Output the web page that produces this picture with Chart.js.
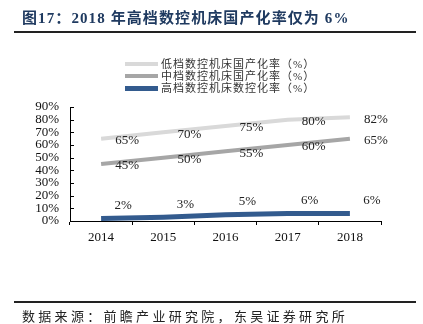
<!DOCTYPE html>
<html>
<head>
<meta charset="utf-8">
<script src="https://cdn.jsdelivr.net/npm/chart.js@4"></script>
<style>
  body { margin: 0; background: #fff; }
  #wrap { position: relative; width: 423px; height: 324px; overflow: hidden; }
  #chart { position: absolute; left: 0; top: 0; }
  .serif { font-family: "Liberation Serif", "Times New Roman", "Noto Sans CJK SC", serif; }
  #title { position: absolute; left: 22px; top: 6px; font-size: 15px; font-weight: bold; color: #1f3a60; letter-spacing: 1.1px; white-space: nowrap; }
  #topRule { position: absolute; left: 14px; top: 31px; width: 402px; height: 2px; background: #222; }
  #legend { position: absolute; left: 125px; top: 58px; font-size: 11px; color: #333; line-height: 12px; letter-spacing: 1px; }
  #legend .row { display: flex; align-items: center; height: 12px; }
  #legend .swatch { width: 33px; margin-right: 3px; }
  #bottomRule { position: absolute; left: 14px; top: 301px; width: 402px; height: 1.5px; background: #222; }
  #source { position: absolute; left: 22px; top: 306px; font-size: 13px; color: #222; letter-spacing: 3.3px; white-space: nowrap; }
</style>
</head>
<body>
<div id="wrap">
  <canvas id="chart" width="423" height="324"></canvas>
  <div id="title" class="serif">图17：2018 年高档数控机床国产化率仅为 6%</div>
  <div id="topRule"></div>
  <div id="legend" class="serif"></div>
  <div id="bottomRule"></div>
  <div id="source" class="serif">数据来源：前瞻产业研究院，东吴证券研究所</div>
</div>
<script>
document.addEventListener("DOMContentLoaded", () => {
    const years = ['2014', '2015', '2016', '2017', '2018'];
    const lowEnd = [65, 70, 75, 80, 82];
    const midEnd = [45, 50, 55, 60, 65];
    const highEnd = [2, 3, 5, 6, 6];
    const seriesNames = ['低档数控机床国产化率（%）', '中档数控机床国产化率（%）', '高档数控机床数控化率（%）'];
    const seriesColors = ['#d9d9d9', '#a6a6a6', '#335b8e'];
    const lineWidths = [4, 4, 5];
    // label offsets from each point, per series
    const labelOffsets = [[26, 2], [26, 2], [22, -13]];

    const serif = '"Liberation Serif", "Times New Roman", serif';

    // legend
    const legend = document.getElementById('legend');
    seriesNames.forEach((name, i) => {
        const row = document.createElement('div');
        row.className = 'row';
        row.innerHTML = `<span class="swatch" style="border-top:${lineWidths[i]}px solid ${seriesColors[i]}"></span><span>${name}</span>`;
        legend.appendChild(row);
    });

    const valueLabels = {
        id: 'valueLabels',
        afterDatasetsDraw(chart) {
            const ctx = chart.ctx;
            ctx.save();
            ctx.font = '13px ' + serif;
            ctx.fillStyle = '#222';
            ctx.textAlign = 'center';
            ctx.textBaseline = 'middle';
            chart.data.datasets.forEach((ds, i) => {
                const meta = chart.getDatasetMeta(i);
                meta.data.forEach((pt, j) => {
                    ctx.fillText(ds.data[j] + '%', pt.x + labelOffsets[i][0], pt.y + labelOffsets[i][1]);
                });
            });
            ctx.restore();
        }
    };

    // small inward tick marks on the y axis
    const innerTicks = {
        id: 'innerTicks',
        afterDraw(chart) {
            const y = chart.scales.y;
            const ctx = chart.ctx;
            ctx.save();
            ctx.strokeStyle = '#000';
            ctx.lineWidth = 1;
            y.ticks.forEach(t => {
                if (t.value === 0) return;
                const py = Math.round(y.getPixelForValue(t.value)) + 0.5;
                ctx.beginPath();
                ctx.moveTo(chart.chartArea.left, py);
                ctx.lineTo(chart.chartArea.left + 4, py);
                ctx.stroke();
            });
            ctx.restore();
        }
    };

    new Chart(document.getElementById('chart'), {
        type: 'line',
        data: {
            labels: years,
            datasets: [lowEnd, midEnd, highEnd].map((d, i) => ({
                label: seriesNames[i],
                data: d,
                borderColor: seriesColors[i],
                borderWidth: lineWidths[i],
                pointRadius: 0,
                tension: 0,
                fill: false
            }))
        },
        options: {
            responsive: false,
            animation: false,
            layout: { padding: { left: 0, right: 42, top: 107, bottom: 73 } },
            plugins: { legend: { display: false }, tooltip: { enabled: false } },
            scales: {
                x: {
                    offset: true,
                    grid: { offset: true, drawOnChartArea: false, tickLength: 4, color: '#000' },
                    border: { color: '#000' },
                    ticks: { color: '#111', font: { family: serif, size: 13 }, padding: 5 },
                    afterFit(scale) { scale.height = 30; }
                },
                y: {
                    min: 0,
                    max: 90,
                    grid: { drawOnChartArea: false, drawTicks: false },
                    border: { color: '#000' },
                    ticks: { stepSize: 10, autoSkip: false, color: '#111', font: { family: serif, size: 13 }, padding: 11,
                             callback: v => v + '%' },
                    afterFit(scale) { scale.width = 70; }
                }
            }
        },
        plugins: [valueLabels, innerTicks]
    });
});
</script>
</body>
</html>
